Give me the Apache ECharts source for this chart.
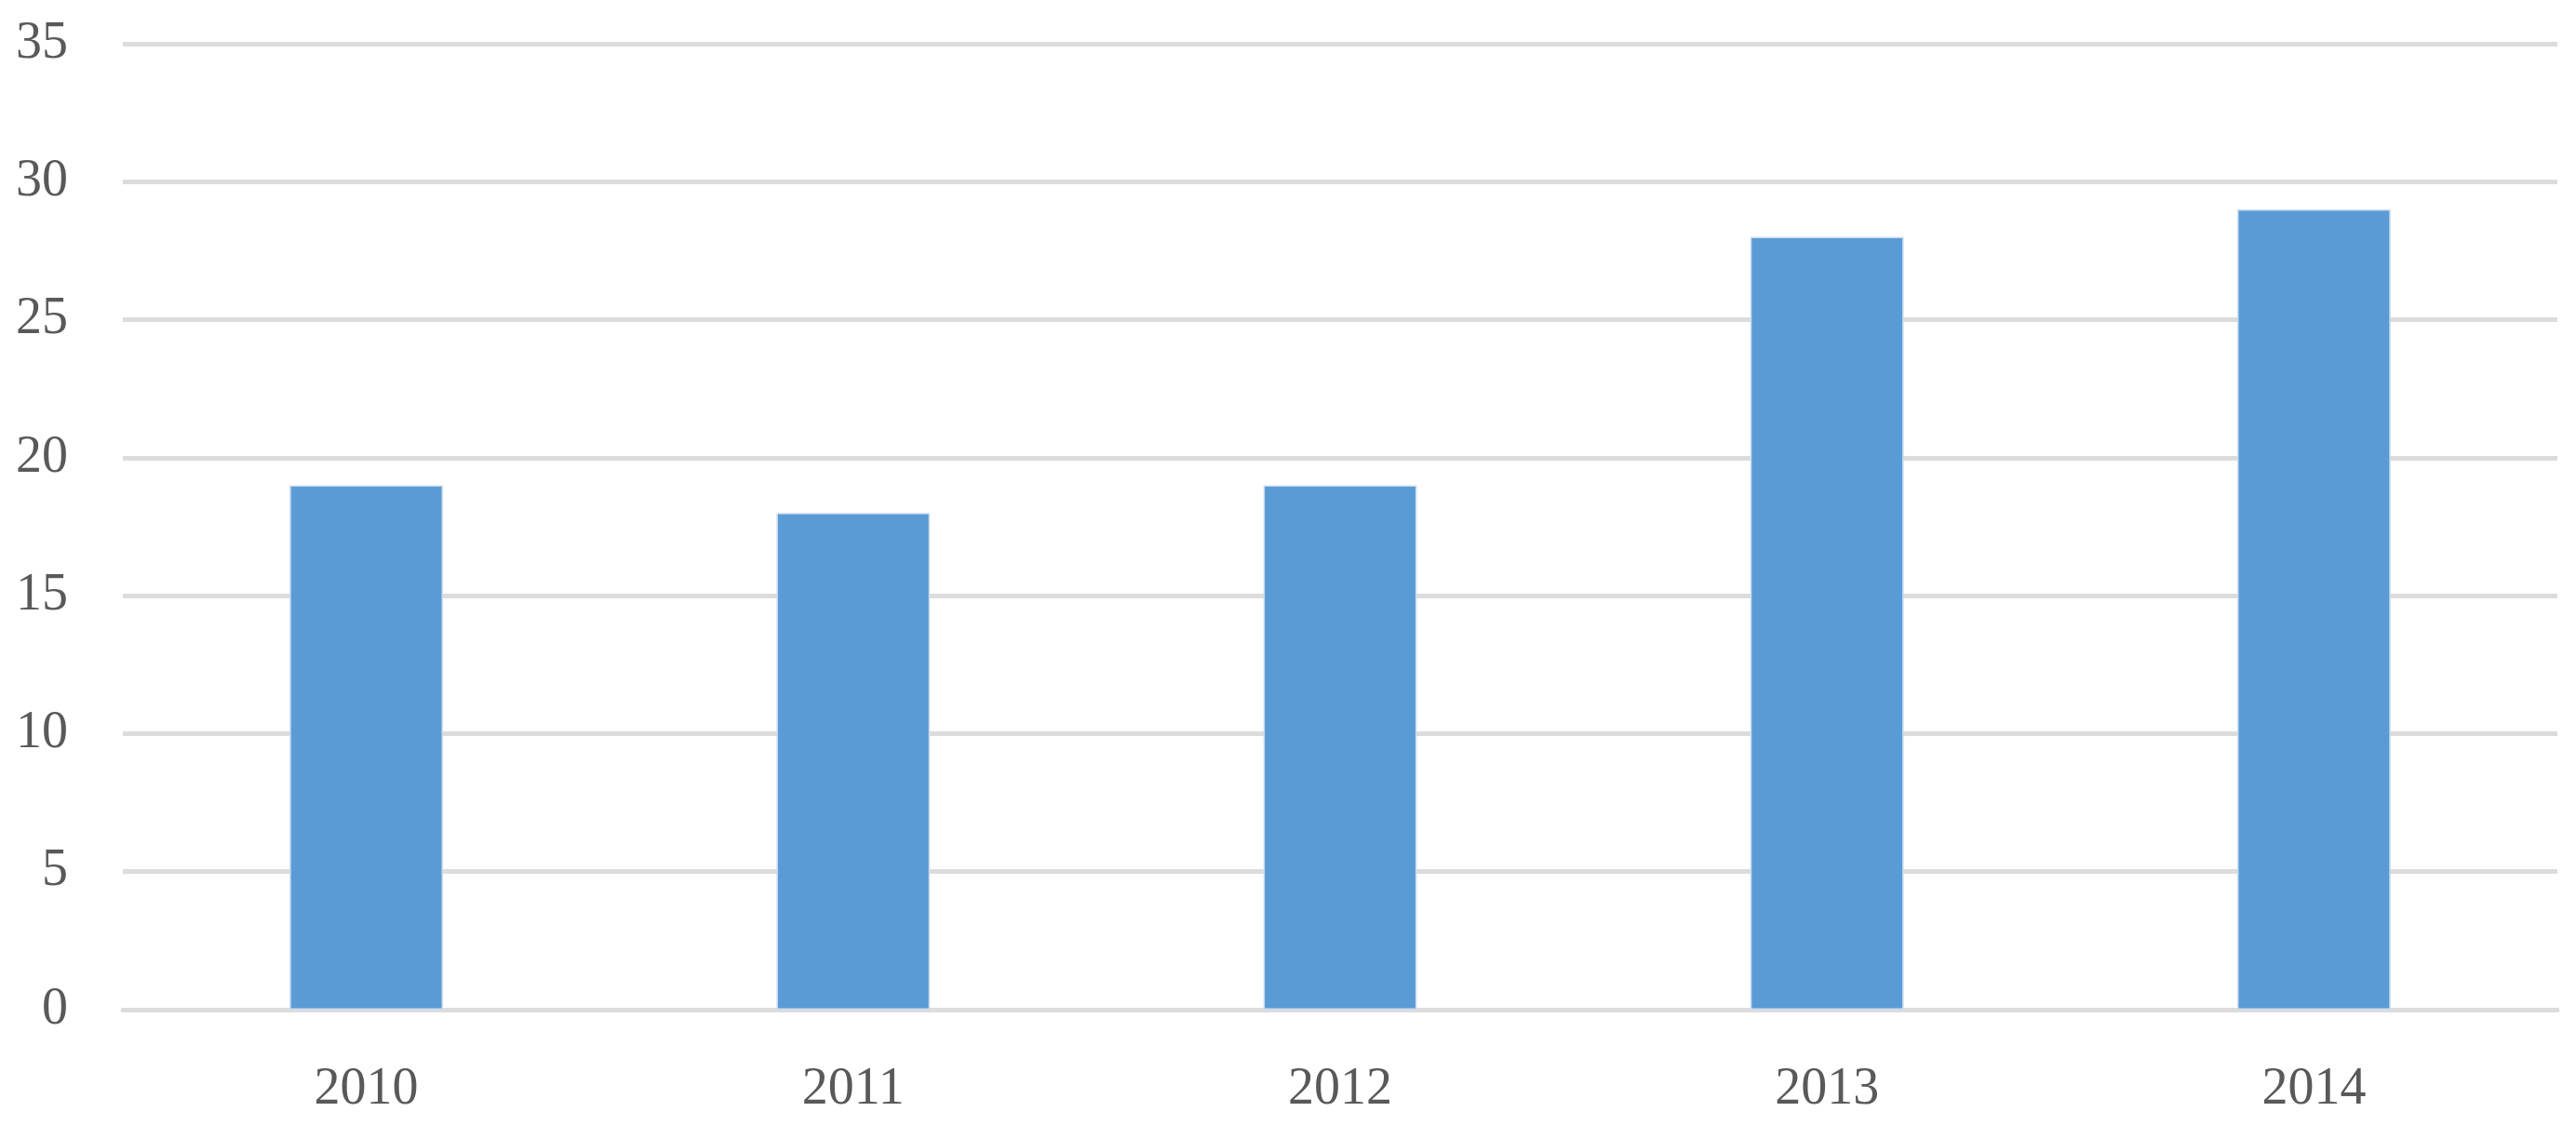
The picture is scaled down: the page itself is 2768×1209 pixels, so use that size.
<!DOCTYPE html>
<html>
<head>
<meta charset="utf-8">
<script src="https://cdn.jsdelivr.net/npm/echarts@6/dist/echarts.min.js"></script>
<style>
html,body{margin:0;padding:0;background:#fff;}
#chart{width:2768px;height:1209px;}
</style>
</head>
<body>
<div id="chart"></div>
<script>
const categories = ['2010', '2011', '2012', '2013', '2014'];
const values = [19, 18, 19, 28, 29];
const yMin = 0, yMax = 35, yInterval = 5;

const chart = echarts.init(document.getElementById('chart'));
const fontFamily = '"Liberation Serif", "DejaVu Serif", serif';
chart.setOption({
  backgroundColor: '#ffffff',
  animation: false,
  grid: { left: 132, right: 20, top: 47, bottom: 124, containLabel: false },
  xAxis: {
    type: 'category',
    data: categories,
    axisLine: { show: true, lineStyle: { color: '#dcdcdc', width: 5 } },
    axisTick: { show: false },
    axisLabel: { color: '#595959', fontSize: 56, fontFamily: fontFamily, margin: 58 }
  },
  yAxis: {
    type: 'value',
    min: yMin, max: yMax, interval: yInterval,
    axisLine: { show: false },
    axisTick: { show: false },
    splitLine: { show: true, lineStyle: { color: '#dcdcdc', width: 5 } },
    axisLabel: { color: '#595959', fontSize: 56, fontFamily: fontFamily, margin: 59 }
  },
  series: [{
    type: 'bar',
    data: values,
    barWidth: '31.5%',
    itemStyle: { color: '#5b9bd5', borderColor: '#c9dcf0', borderWidth: 1.5 }
  }]
});
</script>
</body>
</html>
